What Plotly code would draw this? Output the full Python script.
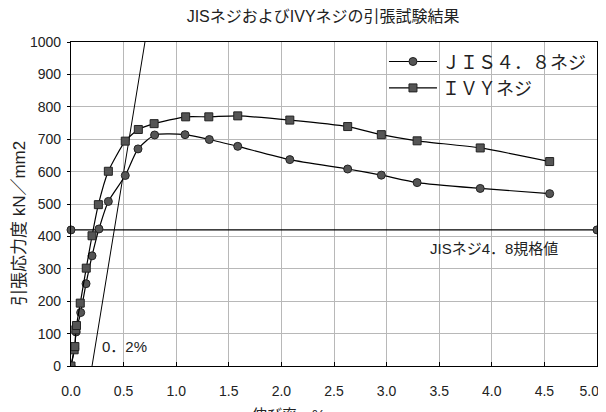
import plotly.graph_objects as go

# JIS 4.8 screw
jis_x = [0.0, 0.035, 0.048, 0.092, 0.143, 0.20, 0.266, 0.355, 0.516, 0.637, 0.795, 1.084, 1.315, 1.585, 2.08, 2.63, 2.95, 3.29, 3.89, 4.55]
jis_y = [0, 55, 105, 165, 254, 340, 423, 508, 588, 670, 713, 714, 699, 678, 637, 608, 589, 566, 548, 532]
# IVY screw
ivy_x = [0.0, 0.03, 0.037, 0.046, 0.052, 0.088, 0.145, 0.20, 0.26, 0.355, 0.516, 0.64, 0.79, 1.09, 1.31, 1.585, 2.08, 2.63, 2.95, 3.29, 3.89, 4.55]
ivy_y = [0, 50, 60, 112, 125, 194, 302, 402, 498, 601, 694, 730, 748, 769, 769, 772, 759, 739, 714, 695, 673, 631]
# JIS 4.8 standard value line
std_x = [0.0, 5.0]
std_y = [420, 420]
# 0.2% offset line
off_x = [0.2, 0.703]
off_y = [0, 1000]

x_ticks = [0.0, 0.5, 1.0, 1.5, 2.0, 2.5, 3.0, 3.5, 4.0, 4.5, 5.0]
x_ticktext = ["0.0", "0.5", "1.0", "1.5", "2.0", "2.5", "3.0", "3.5", "4.0", "4.5", "5.0\u2007\u2007"]
y_ticks = [0, 100, 200, 300, 400, 500, 600, 700, 800, 900, 1000]

mk_fill = "#555555"
fig = go.Figure()
fig.add_trace(go.Scatter(x=off_x, y=off_y, mode="lines", line=dict(color="black", width=1), showlegend=False, hoverinfo="skip"))
fig.add_trace(go.Scatter(x=std_x, y=std_y, mode="lines+markers", line=dict(color="black", width=1.3),
                         marker=dict(symbol="circle", size=8, color=mk_fill, line=dict(color="#222", width=1)),
                         showlegend=False, cliponaxis=False))
fig.add_trace(go.Scatter(x=jis_x, y=jis_y, mode="lines+markers", name="ＪＩＳ４．８ネジ",
                         line=dict(color="black", width=1.2, shape="spline", smoothing=0.6),
                         marker=dict(symbol="circle", size=8, color=mk_fill, line=dict(color="#222", width=1))))
fig.add_trace(go.Scatter(x=ivy_x, y=ivy_y, mode="lines+markers", name="ＩＶＹネジ",
                         line=dict(color="black", width=1.2, shape="spline", smoothing=0.6),
                         marker=dict(symbol="square", size=8, color=mk_fill, line=dict(color="#222", width=1))))

fig.add_annotation(x=0.276, y=59, text="0．2%", showarrow=False, xanchor="left", yanchor="middle",
                   font=dict(size=15, color="#222"))
fig.add_annotation(x=3.39, y=362, text="JISネジ4．8規格値", showarrow=False, xanchor="left", yanchor="middle",
                   font=dict(size=15, color="#222"))
# axis titles as annotations for precise placement
fig.add_annotation(xref="paper", yref="paper", x=-0.099, y=0.441, text="引張応力度 kN／mm2", textangle=-90,
                   showarrow=False, xanchor="center", yanchor="middle", font=dict(size=17, color="#222"))
fig.add_annotation(xref="paper", yref="paper", x=0.414, y=-0.118, text="伸び率　%",
                   showarrow=False, xanchor="center", yanchor="top", font=dict(size=15, color="#222"))

fig.update_layout(
    width=598, height=404,
    margin=dict(l=63, r=9, t=34, b=46, autoexpand=False),
    paper_bgcolor="white", plot_bgcolor="white",
    font=dict(family="Liberation Sans, Noto Sans CJK JP, sans-serif", size=14, color="#222"),
    title=dict(text="JISネジおよびIVYネジの引張試験結果", x=0.527, xanchor="center", y=0.978, yanchor="middle",
               font=dict(size=16, color="#222")),
    legend=dict(x=0.595, xanchor="left", y=0.996, yanchor="top", bgcolor="rgba(255,255,255,0)",
                font=dict(size=18, color="#222"), tracegroupgap=0, itemwidth=48),
    showlegend=True,
)
fig.update_xaxes(range=[0, 5], tickvals=x_ticks, ticktext=x_ticktext,
                 showline=True, linecolor="black", linewidth=1.3, mirror=True,
                 ticks="inside", ticklen=4, tickcolor="black", automargin=False, ticklabelstandoff=12,
                 ticklabeloverflow="allow",
                 showgrid=True, gridcolor="#b8b8b8", gridwidth=1, zeroline=False,
                 tickfont=dict(size=14))
fig.update_yaxes(range=[0, 1000], tickvals=y_ticks,
                 showline=True, linecolor="black", linewidth=1.3, mirror=True,
                 ticks="outside", ticklen=3, tickcolor="black", automargin=False, ticklabelstandoff=3,
                 ticklabeloverflow="allow",
                 showgrid=True, gridcolor="#b8b8b8", gridwidth=1, zeroline=False,
                 tickfont=dict(size=14))

fig.write_html("out.html")
